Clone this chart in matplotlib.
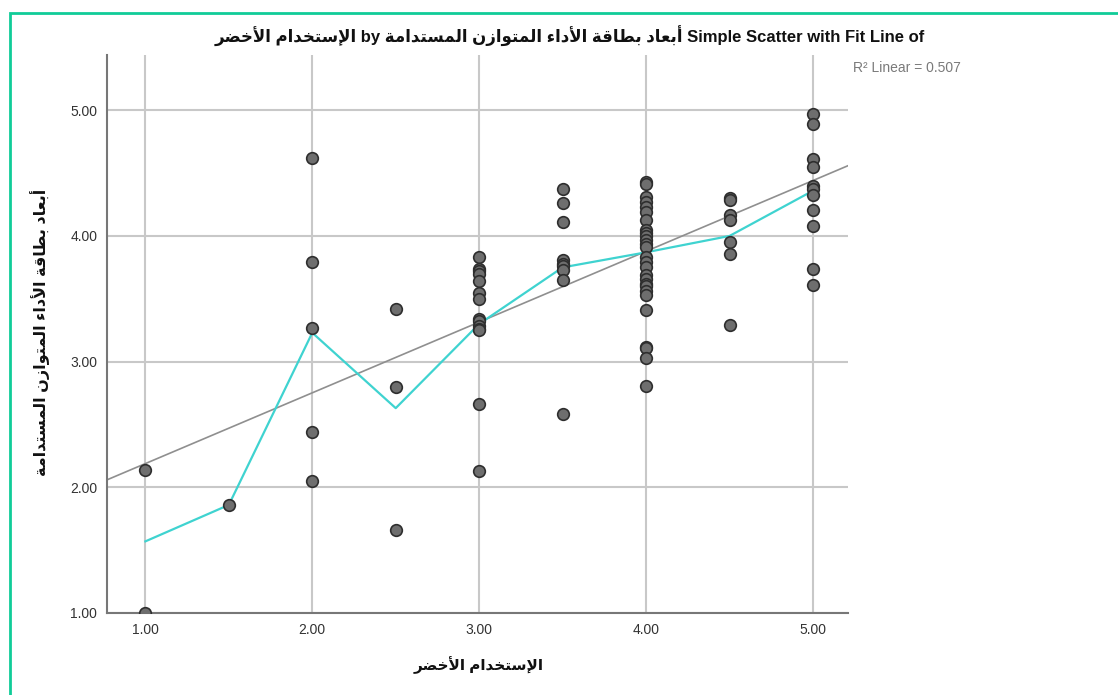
import numpy as np
import matplotlib
matplotlib.use("Agg")
import matplotlib.pyplot as plt
from matplotlib.patches import Rectangle

# values
y_at_100 = [2.14, 1.00]
y_at_150 = [1.86]
y_at_200 = [4.62, 3.79, 3.27, 2.44, 2.05]
y_at_250 = [3.42, 2.80, 1.66]
y_at_300 = [3.83, 3.74, 3.72, 3.70, 3.64, 3.55, 3.50, 3.34, 3.32, 3.28, 3.26, 3.25, 2.66, 2.13]
y_at_350 = [4.37, 4.26, 4.11, 3.81, 3.78, 3.76, 3.73, 3.65, 2.58]
y_at_400 = [4.43, 4.41, 4.31, 4.27, 4.23, 4.19, 4.13, 4.05, 4.02, 4.00, 3.97, 3.94, 3.91,
            3.83, 3.79, 3.75, 3.69, 3.66, 3.62, 3.60, 3.56, 3.53, 3.41, 3.12, 3.11, 3.03, 2.81]
y_at_450 = [4.30, 4.29, 4.17, 4.13, 3.95, 3.86, 3.29]
y_at_500 = [4.97, 4.89, 4.61, 4.55, 4.40, 4.37, 4.33, 4.21, 4.08, 3.74, 3.61]

x_levels = [1.0, 1.5, 2.0, 2.5, 3.0, 3.5, 4.0, 4.5, 5.0]
groups = [y_at_100, y_at_150, y_at_200, y_at_250, y_at_300, y_at_350, y_at_400, y_at_450, y_at_500]

# cyan fit line (local means)
fit_y = [1.57, 1.86, 3.23, 2.63, 3.30, 3.75, 3.87, 4.00, 4.36]

# linear fit
lin_intercept = 1.626
lin_slope = 0.563
r2_text = "R\u00b2 Linear = 0.507"

xticks = [1.0, 2.0, 3.0, 4.0, 5.0]
yticks = [1.0, 2.0, 3.0, 4.0, 5.0]

x_label_ar = "الإستخدام الأخضر"
y_label_ar = "أبعاد بطاقة الأداء المتوازن المستدامة"

# --- tiny arabic shaper (presentation forms, visual order) ---
FORMS = {
    '\u0621': ('\ufe80',),
    '\u0623': ('\ufe83', '\ufe84'),
    '\u0625': ('\ufe87', '\ufe88'),
    '\u0627': ('\ufe8d', '\ufe8e'),
    '\u0628': ('\ufe8f', '\ufe90', '\ufe91', '\ufe92'),
    '\u0629': ('\ufe93', '\ufe94'),
    '\u062a': ('\ufe95', '\ufe96', '\ufe97', '\ufe98'),
    '\u062e': ('\ufea5', '\ufea6', '\ufea7', '\ufea8'),
    '\u062f': ('\ufea9', '\ufeaa'),
    '\u0631': ('\ufead', '\ufeae'),
    '\u0632': ('\ufeaf', '\ufeb0'),
    '\u0633': ('\ufeb1', '\ufeb2', '\ufeb3', '\ufeb4'),
    '\u0636': ('\ufebd', '\ufebe', '\ufebf', '\ufec0'),
    '\u0637': ('\ufec1', '\ufec2', '\ufec3', '\ufec4'),
    '\u0639': ('\ufec9', '\ufeca', '\ufecb', '\ufecc'),
    '\u0642': ('\ufed5', '\ufed6', '\ufed7', '\ufed8'),
    '\u0644': ('\ufedd', '\ufede', '\ufedf', '\ufee0'),
    '\u0645': ('\ufee1', '\ufee2', '\ufee3', '\ufee4'),
    '\u0646': ('\ufee5', '\ufee6', '\ufee7', '\ufee8'),
    '\u0648': ('\ufeed', '\ufeee'),
    '\u0644\u0623': ('\ufef7', '\ufef8'),
    '\u0644\u0625': ('\ufef9', '\ufefa'),
    '\u0644\u0627': ('\ufefb', '\ufefc'),
}


def shape(text):
    toks = []
    i = 0
    while i < len(text):
        pair = text[i:i + 2]
        if pair in FORMS and len(pair) == 2:
            toks.append(pair)
            i += 2
        else:
            toks.append(text[i])
            i += 1
    out = []
    for k, t in enumerate(toks):
        f = FORMS.get(t)
        if f is None:
            out.append(t)
            continue
        prev = toks[k - 1] if k > 0 else None
        nxt = toks[k + 1] if k + 1 < len(toks) else None
        jp = len(f) > 1 and prev in FORMS and len(FORMS[prev]) == 4
        jn = len(f) == 4 and nxt in FORMS and len(FORMS[nxt]) > 1
        if jp and jn:
            out.append(f[3])
        elif jp:
            out.append(f[1])
        elif jn:
            out.append(f[2])
        else:
            out.append(f[0])
    return ''.join(reversed(out))


fam = ['Liberation Sans', 'DejaVu Sans']
plt.rcParams['font.family'] = fam

fig = plt.figure(figsize=(11.18, 6.95), dpi=100)
fig.patches.append(Rectangle((10 / 1118, -0.01), 1.2, 1 - 13 / 695 + 0.01, transform=fig.transFigure,
                             fill=False, edgecolor='#10cc98', linewidth=2))

ax = fig.add_axes([107 / 1118, 1 - 613 / 695, (848 - 107) / 1118, (613 - 55) / 695])
ax.set_xlim(0.77, 5.21)
ax.set_ylim(1.0, 5.44)

for t in xticks:
    ax.axvline(t, color='#c8c8c8', lw=1.5, zorder=0)
for t in yticks:
    ax.axhline(t, color='#c8c8c8', lw=1.5, zorder=0)

xs = np.linspace(0.77, 5.21, 50)
ax.plot(xs, lin_intercept + lin_slope * xs, color='#8f8f8f', lw=1.2, zorder=2)
ax.plot(x_levels, fit_y, color='#3fd3d0', lw=1.6, zorder=3)

for xv, ys in zip(x_levels, groups):
    ax.scatter([xv] * len(ys), ys, s=70, facecolor='#6e6e6e', edgecolor='#2e2e2e',
               linewidths=1.2, zorder=4)

ax.set_xticks(xticks)
ax.set_yticks(yticks)
ax.set_xticklabels(["%.2f" % t for t in xticks])
ax.set_yticklabels(["%.2f" % t for t in yticks])
ax.tick_params(length=0, labelsize=10, colors='#333333', pad=7)
for s in ['top', 'right']:
    ax.spines[s].set_visible(False)
for s in ['left', 'bottom']:
    ax.spines[s].set_color('#777777')
    ax.spines[s].set_linewidth(1.5)

ax.text(853 / 1118, 1 - 68 / 695, r2_text, transform=fig.transFigure, fontsize=10,
        color='#7a7a7a', va='center', ha='left')

title = shape(x_label_ar) + " by " + shape(y_label_ar) + " Simple Scatter with Fit Line of"
fig.text(570 / 1118, 1 - 36 / 695, title, ha='center', va='center', fontsize=12,
         fontweight='bold', color='#111111')

fig.text(479 / 1118, 1 - 665 / 695, shape(x_label_ar), ha='center', va='center',
         fontsize=11, fontweight='bold', color='#111111')
fig.text(40 / 1118, 1 - 332 / 695, shape(y_label_ar), ha='center', va='center',
         fontsize=11.5, fontweight='bold', color='#111111', rotation=90)

fig.savefig('out.png', dpi=100)
